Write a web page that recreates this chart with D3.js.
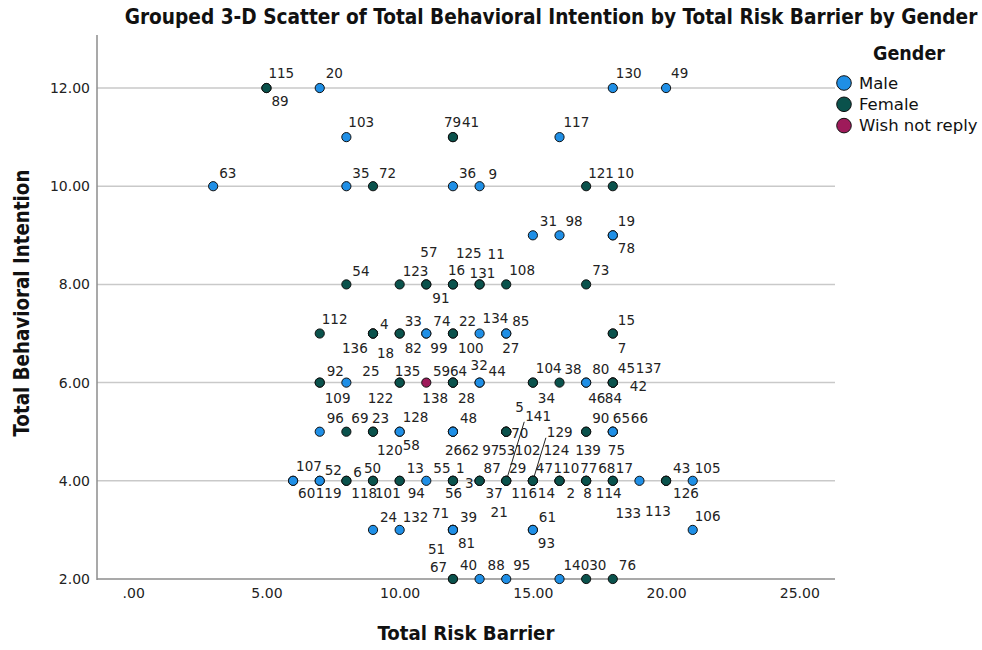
<!DOCTYPE html>
<html>
<head>
<meta charset="utf-8">
<script src="https://cdn.jsdelivr.net/npm/d3@7"></script>
<style>
  html, body { margin: 0; padding: 0; background: #fff; }
  svg { display: block; }
</style>
</head>
<body>
<svg id="chart" width="982" height="650"></svg>
<script>
// Cases: [case id, Total Risk Barrier, Total Behavioral Intention]
const maleCases = [
  [20, 7, 12], [130, 18, 12], [49, 20, 12],
  [103, 8, 11], [117, 16, 11],
  [63, 3, 10], [35, 8, 10], [36, 12, 10], [9, 13, 10],
  [31, 15, 9], [98, 16, 9], [19, 18, 9], [78, 18, 9],
  [74, 11, 7], [99, 11, 7], [134, 13, 7], [85, 14, 7], [27, 14, 7],
  [25, 8, 6], [32, 13, 6], [44, 13, 6], [80, 17, 6], [46, 17, 6],
  [96, 7, 5], [128, 10, 5], [58, 10, 5], [48, 12, 5], [26, 12, 5], [62, 12, 5],
  [65, 18, 5], [66, 18, 5], [75, 18, 5],
  [107, 6, 4], [60, 6, 4], [52, 7, 4], [119, 7, 4], [55, 11, 4], [133, 19, 4], [105, 21, 4],
  [24, 9, 3], [132, 10, 3], [71, 12, 3], [39, 12, 3], [81, 12, 3], [51, 12, 3],
  [61, 15, 3], [93, 15, 3], [106, 21, 3],
  [88, 13, 2], [95, 14, 2], [140, 16, 2]
];
const femaleCases = [
  [115, 5, 12], [89, 5, 12],
  [79, 12, 11], [41, 12, 11],
  [72, 9, 10], [121, 17, 10], [10, 18, 10],
  [54, 8, 8], [123, 10, 8], [57, 11, 8], [91, 11, 8], [16, 12, 8], [125, 12, 8],
  [131, 13, 8], [11, 13, 8], [108, 14, 8], [73, 17, 8],
  [112, 7, 7], [4, 9, 7], [136, 9, 7], [18, 9, 7], [33, 10, 7], [82, 10, 7],
  [22, 12, 7], [100, 12, 7], [15, 18, 7], [7, 18, 7],
  [92, 7, 6], [109, 7, 6], [135, 10, 6], [122, 10, 6], [59, 12, 6], [64, 12, 6], [28, 12, 6],
  [104, 15, 6], [34, 15, 6], [38, 16, 6], [45, 18, 6], [137, 18, 6], [84, 18, 6], [42, 18, 6],
  [69, 8, 5], [23, 9, 5], [120, 9, 5], [97, 14, 5], [53, 14, 5], [70, 14, 5], [5, 14, 5],
  [90, 17, 5], [139, 17, 5],
  [6, 8, 4], [118, 8, 4], [50, 9, 4], [101, 9, 4], [13, 10, 4], [94, 10, 4],
  [1, 12, 4], [56, 12, 4], [3, 12, 4], [87, 13, 4], [37, 13, 4], [21, 13, 4],
  [29, 14, 4], [141, 14, 4], [116, 14, 4], [47, 15, 4], [14, 15, 4], [129, 15, 4], [102, 15, 4],
  [110, 16, 4], [2, 16, 4], [124, 16, 4], [77, 17, 4], [8, 17, 4], [68, 17, 4],
  [17, 18, 4], [114, 18, 4], [43, 20, 4], [113, 20, 4], [126, 20, 4],
  [67, 12, 2], [40, 12, 2], [30, 17, 2], [76, 18, 2]
];
const wishNotReplyCases = [
  [138, 11, 6]
];

const genderNames = ["Male", "Female", "Wish not reply"];
const xTickValues = [0, 5, 10, 15, 20, 25];
const yTickValues = [2, 4, 6, 8, 10, 12];

// Case-label placement: offset of the label's left edge / vertical centre from its point (px)
const labelOffset = {
  115: [2, -15], 89: [5, 13], 20: [6, -15], 130: [3, -15], 49: [5, -15],
  103: [2, -15], 79: [-9, -15], 41: [9, -15], 117: [4, -15],
  63: [6, -13], 35: [6, -13], 72: [6, -13], 36: [6, -13], 9: [9, -12], 121: [2, -13], 10: [4, -13],
  31: [7, -14], 98: [6, -14], 19: [5, -14], 78: [5, 13],
  54: [6, -13], 123: [3, -13], 57: [-6, -32], 91: [6, 14], 16: [-5, -14], 125: [3, -31],
  131: [-10, -11], 11: [8, -30], 108: [3, -14], 73: [6, -14],
  112: [2, -15], 4: [7, -10], 136: [-31, 14], 18: [4, 19], 33: [5, -13], 82: [5, 14],
  74: [7, -13], 99: [4, 14], 22: [6, -13], 100: [5, 14], 134: [3, -16], 85: [6, -13],
  27: [-4, 14], 15: [5, -14], 7: [5, 14],
  92: [7, -12], 109: [5, 15], 25: [16, -12], 135: [-5, -12], 122: [-32, 15], 138: [-4, 15],
  59: [-20, -12], 64: [-3, -12], 28: [5, 15], 32: [-9, -18], 44: [9, -12], 104: [3, -15],
  34: [5, 15], 38: [5, -14], 80: [6, -14], 46: [2, 15], 45: [5, -15], 137: [23, -15],
  84: [-8, 15], 42: [17, 3],
  96: [7, -14], 69: [5, -14], 23: [-1, -14], 128: [3, -15], 120: [4, 18], 58: [3, 13],
  48: [7, -14], 26: [-8, 18], 62: [9, 18], 97: [-24, 18], 53: [-8, 18], 70: [5, 1],
  5: [9, -25], 90: [6, -14], 65: [0, -14], 66: [18, -14], 139: [-11, 18], 75: [-5, 18],
  107: [3, -15], 60: [5, 12], 52: [5, -11], 119: [-4, 12], 6: [7, -9], 50: [-9, -13],
  118: [5, 12], 101: [2, 12], 13: [7, -13], 94: [8, 12], 55: [7, -13], 1: [3, -13],
  56: [-8, 12], 3: [12, 2], 87: [4, -13], 37: [6, 12], 21: [11, 31], 29: [3, -13],
  141: [19, -65], 116: [5, 12], 47: [3, -13], 14: [5, 12], 129: [14, -49], 102: [-18, -31],
  110: [-6, -13], 2: [7, 12], 124: [-16, -31], 77: [-6, -13], 8: [-3, 12], 68: [12, -13],
  17: [3, -13], 114: [-17, 12], 133: [-24, 32], 43: [7, -13], 113: [-21, 30], 126: [7, 12],
  105: [2, -13],
  24: [7, -13], 132: [3, -13], 71: [-21, -17], 39: [7, -13], 81: [5, 13], 51: [-25, 19],
  61: [6, -13], 93: [5, 13], 106: [2, -14],
  67: [-23, -12], 40: [7, -14], 88: [8, -14], 95: [7, -14], 140: [4, -14], 30: [3, -14], 76: [6, -14]
};
// Labels set far from their point get a leader line
const leaderLabels = [141, 129];

const colors = { "Male": "#1f8fe6", "Female": "#0a524c", "Wish not reply": "#9e1a5a" };

const cases = [
  ...maleCases.map(c => ({ id: c[0], x: c[1], y: c[2], g: genderNames[0] })),
  ...femaleCases.map(c => ({ id: c[0], x: c[1], y: c[2], g: genderNames[1] })),
  ...wishNotReplyCases.map(c => ({ id: c[0], x: c[1], y: c[2], g: genderNames[2] }))
];

const svg = d3.select("#chart");
const plot = { left: 97, right: 835, top: 35, bottom: 579 };

const x = d3.scaleLinear().domain([-1.36, 26.34]).range([plot.left, plot.right]);
const y = d3.scaleLinear().domain([2, 13.08]).range([plot.bottom, plot.top]);

const fmt = v => { const s = d3.format(".2f")(v); return s.startsWith("0.") ? s.slice(1) : s; };

// Horizontal gridlines
svg.append("g").selectAll("line")
  .data(yTickValues.filter(v => v > 2))
  .join("line")
  .attr("x1", plot.left).attr("x2", plot.right)
  .attr("y1", d => y(d)).attr("y2", d => y(d))
  .attr("stroke", "#c9c9c9").attr("stroke-width", 1.5);

// Axes
const yAxis = svg.append("g")
  .attr("transform", `translate(${plot.left},0)`)
  .call(d3.axisLeft(y).tickValues(yTickValues).tickFormat(fmt).tickSize(0).tickPadding(7));
yAxis.select(".domain").remove();
yAxis.selectAll("text").attr("font-family", "DejaVu Sans, sans-serif").attr("font-size", 14).attr("fill", "#222");

const xAxis = svg.append("g")
  .attr("transform", `translate(0,${plot.bottom})`)
  .call(d3.axisBottom(x).tickValues(xTickValues).tickFormat(fmt).tickSize(0).tickPadding(9));
xAxis.select(".domain").remove();
xAxis.selectAll("text").attr("font-family", "DejaVu Sans, sans-serif").attr("font-size", 14).attr("fill", "#222");

svg.append("line")
  .attr("x1", plot.left).attr("x2", plot.left)
  .attr("y1", plot.top).attr("y2", plot.bottom + 1)
  .attr("stroke", "#8c8c8c").attr("stroke-width", 1.5);
svg.append("line")
  .attr("x1", plot.left).attr("x2", plot.right)
  .attr("y1", plot.bottom).attr("y2", plot.bottom)
  .attr("stroke", "#8c8c8c").attr("stroke-width", 1.5);

// Leader lines
const byId = new Map(cases.map(c => [c.id, c]));
svg.append("g").selectAll("line")
  .data(leaderLabels.map(id => byId.get(id)))
  .join("line")
  .attr("x1", d => x(d.x) + labelOffset[d.id][0] - 1)
  .attr("y1", d => y(d.y) + labelOffset[d.id][1] + 6)
  .attr("x2", d => x(d.x)).attr("y2", d => y(d.y))
  .attr("stroke", "#222").attr("stroke-width", 1);

// Points
svg.append("g").selectAll("circle")
  .data(cases)
  .join("circle")
  .attr("cx", d => x(d.x)).attr("cy", d => y(d.y))
  .attr("r", 4.6)
  .attr("fill", d => colors[d.g])
  .attr("stroke", "#111").attr("stroke-width", 1);

// Case labels
svg.append("g").selectAll("text")
  .data(cases)
  .join("text")
  .attr("x", d => x(d.x) + (labelOffset[d.id] || [6, -14])[0])
  .attr("y", d => y(d.y) + (labelOffset[d.id] || [6, -14])[1])
  .attr("dominant-baseline", "central")
  .attr("font-family", "DejaVu Sans, sans-serif")
  .attr("font-size", 13.5)
  .attr("fill", "#222")
  .text(d => d.id);

// Fit a bold condensed text to a given width
function fitText(sel, width) {
  const len = sel.node().getComputedTextLength();
  const fs = parseFloat(sel.attr("font-size"));
  sel.attr("font-size", fs * width / len);
}
const boldFont = "'Liberation Sans Narrow', 'DejaVu Sans Condensed', 'DejaVu Sans', sans-serif";

const title = svg.append("text")
  .attr("x", 551).attr("y", 17)
  .attr("text-anchor", "middle").attr("dominant-baseline", "central")
  .attr("font-family", boldFont).attr("font-weight", "bold").attr("font-stretch", "condensed")
  .attr("font-size", 20).attr("fill", "#111")
  .text("Grouped 3-D Scatter of Total Behavioral Intention by Total Risk Barrier by Gender");
fitText(title, 853);

const xTitle = svg.append("text")
  .attr("x", 466).attr("y", 633)
  .attr("text-anchor", "middle").attr("dominant-baseline", "central")
  .attr("font-family", boldFont).attr("font-weight", "bold").attr("font-stretch", "condensed")
  .attr("font-size", 20).attr("fill", "#111")
  .text("Total Risk Barrier");
fitText(xTitle, 177);

const yTitle = svg.append("text")
  .attr("transform", "translate(22,303) rotate(-90)")
  .attr("text-anchor", "middle").attr("dominant-baseline", "central")
  .attr("font-family", boldFont).attr("font-weight", "bold").attr("font-stretch", "condensed")
  .attr("font-size", 20).attr("fill", "#111")
  .text("Total Behavioral Intention");
fitText(yTitle, 267);

// Legend
const legend = svg.append("g");
const legTitle = legend.append("text")
  .attr("x", 909).attr("y", 53)
  .attr("text-anchor", "middle").attr("dominant-baseline", "central")
  .attr("font-family", boldFont).attr("font-weight", "bold").attr("font-stretch", "condensed")
  .attr("font-size", 20).attr("fill", "#111")
  .text("Gender");
fitText(legTitle, 72);

const legItems = legend.selectAll("g.item")
  .data(genderNames)
  .join("g").attr("class", "item")
  .attr("transform", (d, i) => `translate(844,${83 + i * 21.3})`);
legItems.append("circle")
  .attr("r", 7.3)
  .attr("fill", d => colors[d])
  .attr("stroke", "#111").attr("stroke-width", 1);
legItems.append("text")
  .attr("x", 15).attr("y", 0)
  .attr("dominant-baseline", "central")
  .attr("font-family", "DejaVu Sans, sans-serif")
  .attr("font-size", 16.5).attr("fill", "#111")
  .text(d => d);
</script>
</body>
</html>
